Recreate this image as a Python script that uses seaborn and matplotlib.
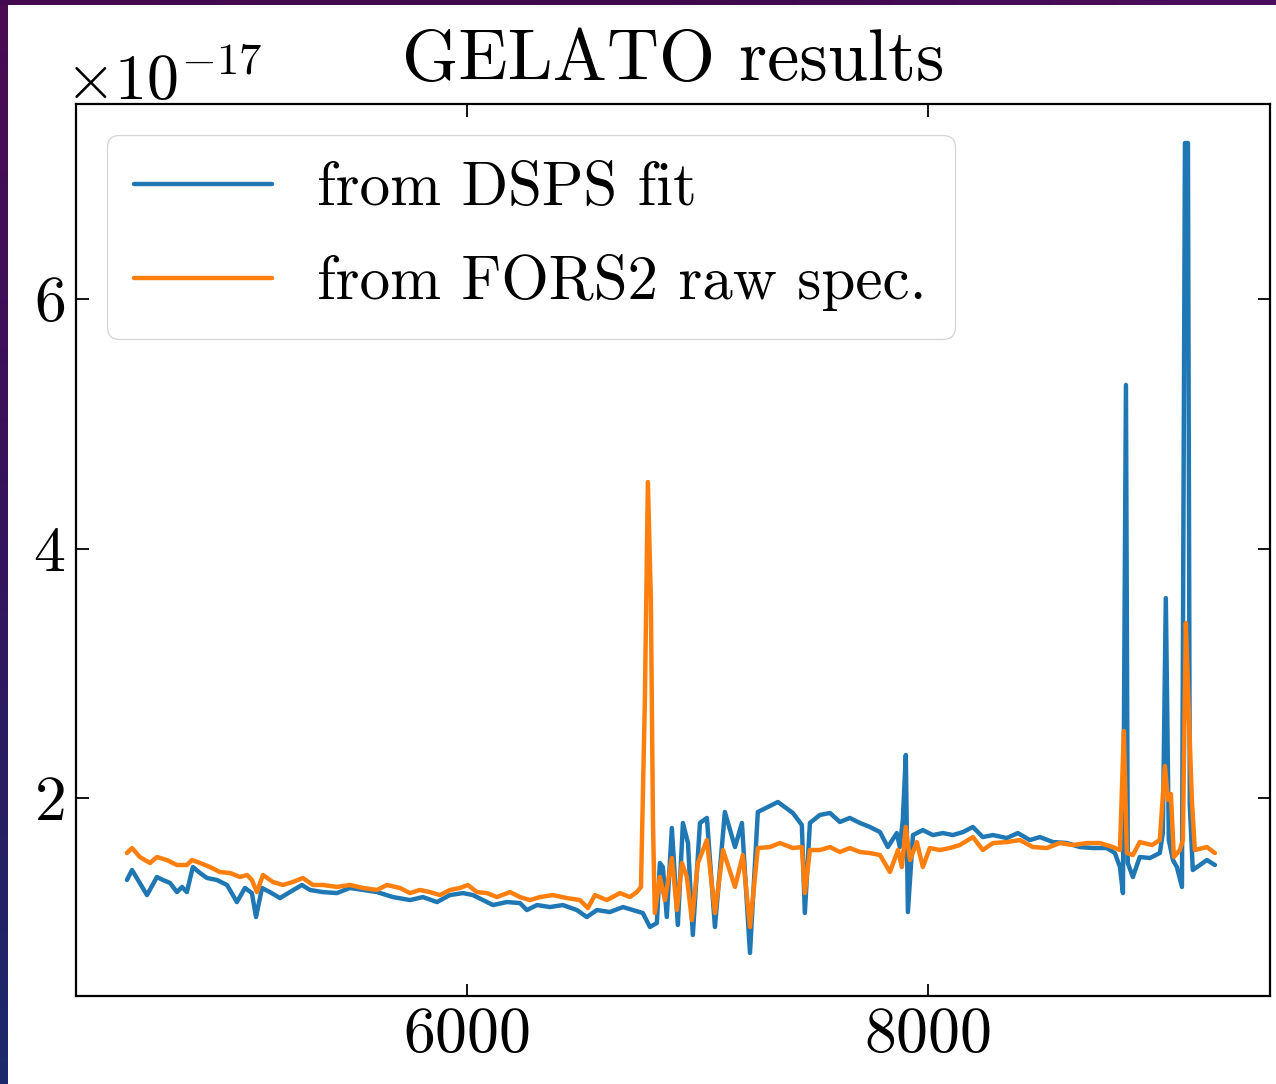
import numpy as np
import pandas as pd
import matplotlib
matplotlib.use("Agg")
import matplotlib.pyplot as plt
import seaborn as sns
from matplotlib.colors import LinearSegmentedColormap

# wavelength (Angstrom) and flux (units of 1e-17)
wl_dsps = [4525, 4547, 4573, 4612, 4655, 4681, 4712, 4742, 4764, 4785, 4811, 4842, 4872, 4915,
           4959, 5002, 5037, 5067, 5085, 5111, 5145, 5189, 5232, 5284, 5319, 5375, 5436, 5492,
           5549, 5610, 5679, 5753, 5809, 5870, 5926, 5983, 6026, 6069, 6113, 6173, 6230, 6260,
           6304, 6360, 6416, 6477, 6520, 6564, 6620, 6677, 6720, 6763, 6794, 6824, 6837, 6850,
           6867, 6889, 6915, 6937, 6959, 6980, 7011, 7041, 7076, 7119, 7163, 7193, 7228, 7262,
           7306, 7349, 7414, 7453, 7466, 7488, 7531, 7575, 7618, 7661, 7705, 7748, 7792, 7826,
           7865, 7878, 7891, 7904, 7913, 7935, 7978, 8021, 8065, 8108, 8152, 8195, 8238, 8282,
           8342, 8390, 8442, 8486, 8542, 8603, 8659, 8716, 8776, 8811, 8833, 8846, 8859, 8867,
           8889, 8919, 8963, 9006, 9019, 9032, 9045, 9063, 9080, 9102, 9115, 9128, 9136, 9149,
           9180, 9210, 9245]
fl_dsps = [1.343, 1.423, 1.343, 1.222, 1.367, 1.343, 1.319, 1.246, 1.287, 1.246, 1.447, 1.399,
           1.359, 1.343, 1.303, 1.166, 1.279, 1.238, 1.046, 1.279, 1.246, 1.198, 1.246, 1.303,
           1.263, 1.246, 1.238, 1.279, 1.263, 1.246, 1.206, 1.182, 1.206, 1.166, 1.222, 1.238,
           1.222, 1.182, 1.142, 1.166, 1.158, 1.102, 1.142, 1.126, 1.142, 1.102, 1.046, 1.102,
           1.086, 1.126, 1.102, 1.078, 0.966, 0.998, 1.479, 1.447, 1.046, 1.760, 0.982, 1.800,
           1.639, 0.902, 1.800, 1.840, 0.966, 1.888, 1.607, 1.800, 0.758, 1.888, 1.928, 1.968,
           1.880, 1.784, 1.078, 1.800, 1.864, 1.880, 1.808, 1.840, 1.800, 1.768, 1.727, 1.607,
           1.719, 1.607, 1.824, 2.345, 1.086, 1.703, 1.743, 1.703, 1.719, 1.703, 1.727, 1.768,
           1.687, 1.703, 1.679, 1.719, 1.663, 1.687, 1.647, 1.639, 1.607, 1.599, 1.599, 1.559,
           1.447, 1.238, 5.311, 1.479, 1.367, 1.527, 1.519, 1.559, 1.719, 3.603, 1.663, 1.503,
           1.447, 1.287, 7.250, 7.250, 1.944, 1.423, 1.463, 1.503, 1.463]

wl_fors = [4525, 4547, 4581, 4625, 4655, 4698, 4742, 4785, 4807, 4842, 4885, 4928, 4972, 5015,
           5046, 5067, 5089, 5115, 5158, 5202, 5245, 5288, 5332, 5375, 5436, 5492, 5549, 5610,
           5653, 5709, 5753, 5796, 5839, 5883, 5926, 5970, 6004, 6043, 6087, 6130, 6187, 6230,
           6273, 6317, 6373, 6434, 6490, 6525, 6555, 6607, 6664, 6707, 6737, 6755, 6772, 6785,
           6798, 6807, 6815, 6837, 6859, 6889, 6911, 6933, 6954, 6976, 7002, 7041, 7076, 7111,
           7163, 7197, 7228, 7262, 7314, 7358, 7414, 7453, 7466, 7488, 7531, 7575, 7618, 7661,
           7705, 7748, 7792, 7835, 7870, 7887, 7904, 7922, 7952, 7978, 8008, 8052, 8095, 8138,
           8195, 8238, 8282, 8342, 8399, 8455, 8516, 8572, 8629, 8690, 8746, 8802, 8833, 8850,
           8863, 8889, 8919, 8972, 9006, 9028, 9041, 9054, 9067, 9093, 9106, 9119, 9132, 9145,
           9158, 9210, 9245]
fl_fors = [1.559, 1.599, 1.527, 1.479, 1.527, 1.503, 1.463, 1.463, 1.503, 1.479, 1.447, 1.407,
           1.399, 1.367, 1.383, 1.343, 1.246, 1.383, 1.327, 1.303, 1.327, 1.359, 1.303, 1.303,
           1.287, 1.303, 1.279, 1.263, 1.303, 1.279, 1.238, 1.263, 1.246, 1.222, 1.263, 1.279,
           1.303, 1.246, 1.238, 1.206, 1.246, 1.206, 1.182, 1.206, 1.222, 1.198, 1.182, 1.118,
           1.222, 1.182, 1.238, 1.206, 1.246, 1.287, 2.786, 4.533, 3.587, 1.824, 1.078, 1.367,
           1.182, 1.519, 1.102, 1.479, 1.367, 1.022, 1.479, 1.663, 1.078, 1.583, 1.287, 1.543,
           0.966, 1.599, 1.607, 1.639, 1.599, 1.607, 1.238, 1.583, 1.583, 1.607, 1.567, 1.599,
           1.567, 1.559, 1.543, 1.407, 1.583, 1.447, 1.768, 1.503, 1.647, 1.447, 1.599, 1.583,
           1.599, 1.623, 1.687, 1.583, 1.639, 1.647, 1.663, 1.607, 1.599, 1.639, 1.623, 1.639,
           1.639, 1.607, 1.583, 2.537, 1.559, 1.543, 1.647, 1.623, 1.663, 2.257, 1.984, 2.032,
           1.527, 1.583, 1.663, 3.403, 2.673, 1.984, 1.583, 1.607, 1.559]

labels = ["from DSPS fit", "from FORS2 raw spec."]

dsps = pd.DataFrame({"wl": wl_dsps, "flux": np.array(fl_dsps) * 1e-17})
fors = pd.DataFrame({"wl": wl_fors, "flux": np.array(fl_fors) * 1e-17})

sns.set_style("ticks")
plt.rcParams["font.family"] = ["cmr10", "DejaVu Serif"]
plt.rcParams["mathtext.fontset"] = "cm"
plt.rcParams["axes.formatter.use_mathtext"] = True
plt.rcParams["axes.unicode_minus"] = False
plt.rcParams["text.color"] = "black"
plt.rcParams["axes.labelcolor"] = "black"

fig = plt.figure(figsize=(12.76, 10.84), dpi=100, facecolor="white")

# slide background peeking in at left and top
cm_left = LinearSegmentedColormap.from_list("l", ["#4b0b52", "#35145e", "#1b2a6b"])
bl = fig.add_axes([0, 0, 8 / 1276, 1])
bl.imshow(np.linspace(0, 1, 200).reshape(-1, 1), cmap=cm_left, aspect="auto")
bl.axis("off")
cm_top = LinearSegmentedColormap.from_list("t", ["#450a50", "#3d0a4a", "#4a0e5e"])
bt = fig.add_axes([0, 1 - 5 / 1084, 1, 5 / 1084])
bt.imshow(np.linspace(0, 1, 200).reshape(1, -1), cmap=cm_top, aspect="auto")
bt.axis("off")

ax = fig.add_axes([76 / 1276, 88 / 1084, 1194 / 1276, 892 / 1084])
sns.lineplot(data=dsps, x="wl", y="flux", ax=ax, color="#1f77b4", lw=3.2,
             estimator=None, sort=False, label=labels[0])
sns.lineplot(data=fors, x="wl", y="flux", ax=ax, color="#ff7f0e", lw=3.2,
             estimator=None, sort=False, label=labels[1])

ax.set_xlim(4304, 9484)
ax.set_ylim(0.413e-17, 7.563e-17)
ax.set_xticks([6000, 8000])
ax.set_yticks([2e-17, 4e-17, 6e-17])
ax.set_xlabel("")
ax.set_ylabel("")
for s in ax.spines.values():
    s.set_linewidth(1.6)
    s.set_color("black")
ax.tick_params(direction="in", top=True, right=True, length=9, width=1.3,
               labelsize=46, pad=8, colors="black")
ax.yaxis.get_offset_text().set_fontsize(46)
ax.yaxis.get_offset_text().set_x(-0.009)
ax.set_title("GELATO results", fontsize=52, pad=17, color="black")
leg = ax.legend(loc="upper left", fontsize=44, frameon=True, fancybox=True,
                framealpha=0.8, edgecolor="#cccccc", handlelength=2.25,
                handletextpad=0.75, labelspacing=0.6, borderpad=0.45,
                borderaxespad=0.5)
for t in leg.get_texts():
    t.set_color("black")

fig.savefig("out.png", dpi=100, facecolor="white")
